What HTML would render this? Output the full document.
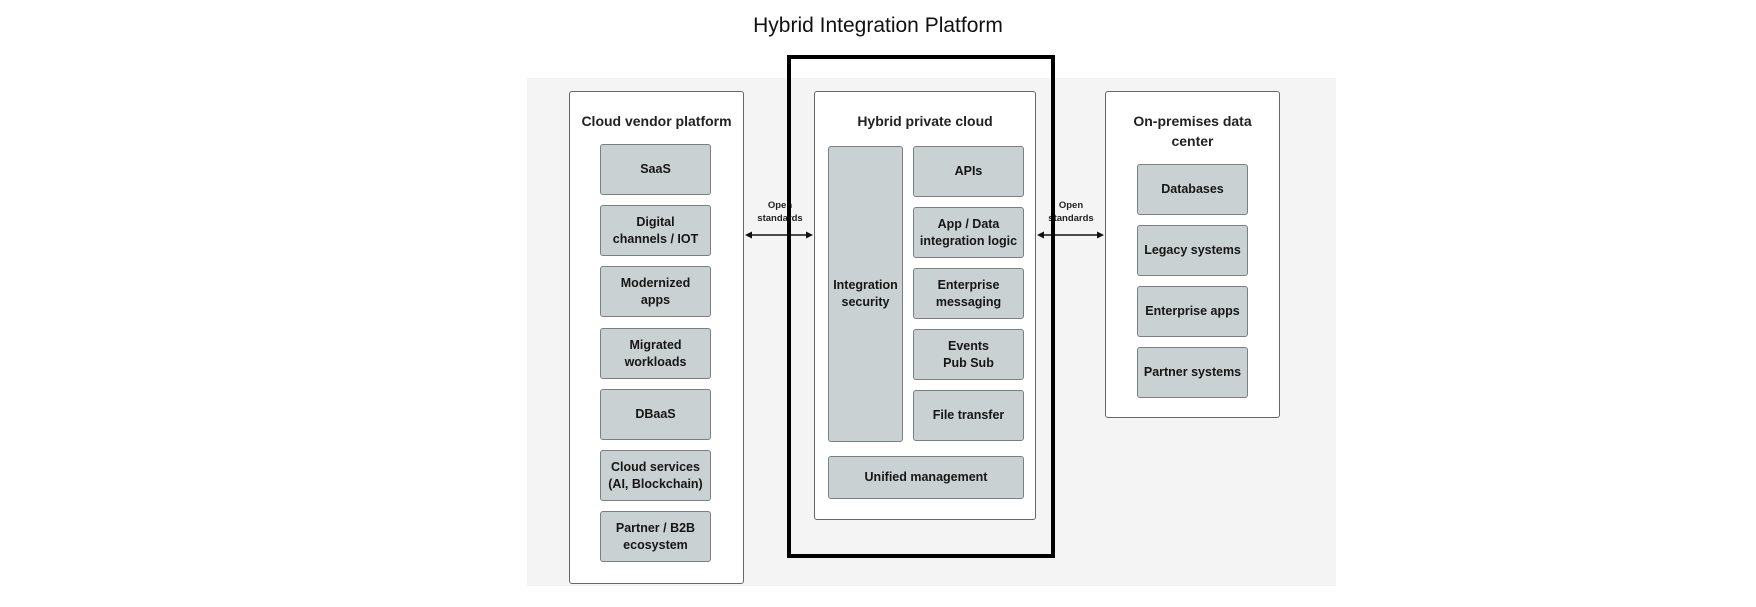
<!DOCTYPE html>
<html><head><style>
body{margin:0;width:1756px;height:607px;background:#fff;position:relative;font-family:"Liberation Sans",sans-serif;overflow:hidden}
div{position:absolute;box-sizing:border-box}
.t{left:0;width:1756px;top:14px;text-align:center;font-size:21px;color:#111}
.bg{left:527px;top:78px;width:809px;height:508px;background:#f4f4f4}
.p{background:#fff;border:1.5px solid #666;border-radius:3px}
.h{font-size:14px;font-weight:bold;color:#222;text-align:center;line-height:20px}
.b{background:#c9d1d2;border:1.5px solid #7a7f80;border-radius:3px;display:flex;align-items:center;justify-content:center;text-align:center;font-size:12.5px;line-height:17px;color:#161616;font-weight:bold}
.big{border:4px solid #000}
.l{font-size:9.5px;color:#222;text-align:center;line-height:13px;font-weight:bold}
</style></head><body>
<div class="t">Hybrid Integration Platform</div>
<div class="bg"></div>

<div class="p" style="left:569px;top:91px;width:175px;height:493px"></div>
<div class="h" style="left:569px;top:111px;width:175px">Cloud vendor platform</div>
<div class="b" style="left:600px;top:144px;width:111px;height:51px">SaaS</div>
<div class="b" style="left:600px;top:205px;width:111px;height:51px">Digital<br>channels / IOT</div>
<div class="b" style="left:600px;top:266px;width:111px;height:51px">Modernized<br>apps</div>
<div class="b" style="left:600px;top:328px;width:111px;height:51px">Migrated<br>workloads</div>
<div class="b" style="left:600px;top:389px;width:111px;height:51px">DBaaS</div>
<div class="b" style="left:600px;top:450px;width:111px;height:51px">Cloud services<br>(AI, Blockchain)</div>
<div class="b" style="left:600px;top:511px;width:111px;height:51px">Partner / B2B<br>ecosystem</div>

<div class="p" style="left:814px;top:91px;width:222px;height:429px"></div>
<div class="h" style="left:814px;top:111px;width:222px">Hybrid private cloud</div>
<div class="b" style="left:828px;top:146px;width:75px;height:296px">Integration<br>security</div>
<div class="b" style="left:913px;top:146px;width:111px;height:51px">APIs</div>
<div class="b" style="left:913px;top:207px;width:111px;height:51px">App / Data<br>integration logic</div>
<div class="b" style="left:913px;top:268px;width:111px;height:51px">Enterprise<br>messaging</div>
<div class="b" style="left:913px;top:329px;width:111px;height:51px">Events<br>Pub Sub</div>
<div class="b" style="left:913px;top:390px;width:111px;height:51px">File transfer</div>
<div class="b" style="left:828px;top:456px;width:196px;height:43px">Unified management</div>

<div class="p" style="left:1105px;top:91px;width:175px;height:327px"></div>
<div class="h" style="left:1105px;top:111px;width:175px">On-premises data<br>center</div>
<div class="b" style="left:1137px;top:164px;width:111px;height:51px">Databases</div>
<div class="b" style="left:1137px;top:225px;width:111px;height:51px">Legacy systems</div>
<div class="b" style="left:1137px;top:286px;width:111px;height:51px">Enterprise apps</div>
<div class="b" style="left:1137px;top:347px;width:111px;height:51px">Partner systems</div>

<svg style="position:absolute;left:0;top:0" width="1756" height="607">
<path d="M745,235L752,231.5L752,238.5z M813,235L806,231.5L806,238.5z M1037,235L1044,231.5L1044,238.5z M1104,235L1097,231.5L1097,238.5z" fill="#111"/>
<line x1="750" y1="235" x2="808" y2="235" stroke="#111" stroke-width="1.5"/>
<line x1="1042" y1="235" x2="1099" y2="235" stroke="#111" stroke-width="1.5"/>
</svg>
<div class="l" style="left:745px;top:199px;width:70px">Open<br>standards</div>
<div class="l" style="left:1036px;top:199px;width:70px">Open<br>standards</div>

<div class="big" style="left:787px;top:55px;width:268px;height:503px"></div>
</body></html>
